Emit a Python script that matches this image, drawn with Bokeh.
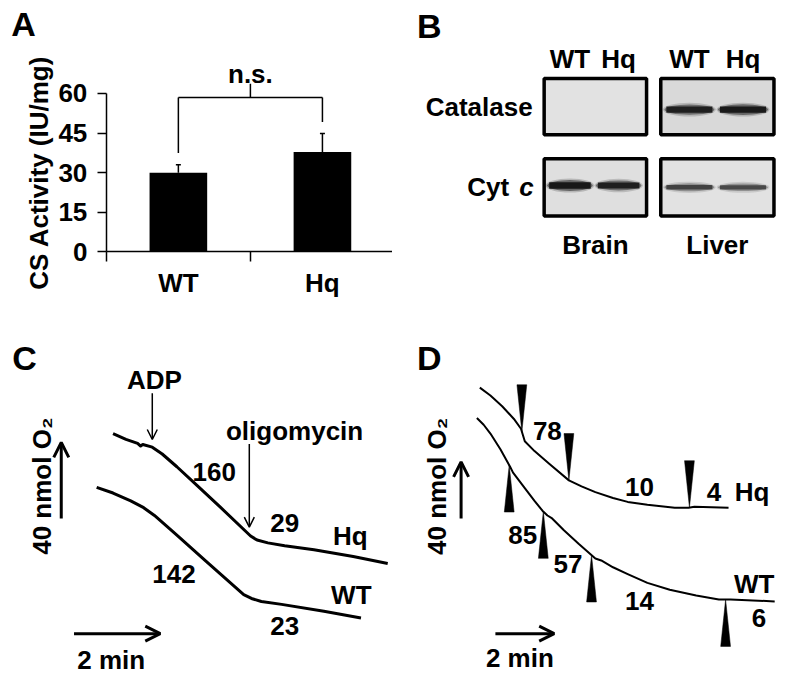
import numpy as np
from bokeh.plotting import figure
from bokeh.layouts import column, row
from bokeh.models import (ColumnDataSource, Range1d, FixedTicker, Whisker, TeeHead,
                          Arrow, OpenHead)
from bokeh.core.properties import value
from bokeh.embed import file_html
from bokeh.resources import INLINE

# ------------------------------------------------------------------ data
# Panel A: citrate synthase activity
cs_groups = ["WT", "Hq"]
cs_activity = [30.0, 37.8]
cs_sem = [3.0, 7.0]
cs_ticks = [0, 15, 30, 45, 60]
cs_ylabel = "CS Activity (IU/mg)"
sig_label = "n.s."

# Panel B: western blot (relative band intensity [tissue][lane])
blot_lanes = ["WT", "Hq"]
blot_tissues = ["Brain", "Liver"]
blot_proteins = ["Catalase", "Cyt"]
catalase_intensity = [[0.0, 0.0], [0.88, 0.92]]
cytc_intensity = [[0.95, 0.88], [0.62, 0.58]]

# Panel C: O2 consumption traces (time in min, O2 in nmol, arbitrary offset)
c_hq_t = [2.61, 2.91, 3.18, 3.25, 3.30, 3.52, 3.75, 4.09, 4.55, 5.11, 5.80, 5.95, 6.20, 6.59, 7.27, 8.18, 8.98]
c_hq_o2 = [129.7, 126.7, 124.6, 123.2, 124.0, 122.6, 119.0, 112.3, 102.6, 90.8, 75.9, 73.8, 72.3, 70.8, 68.7, 65.1, 61.5]
c_wt_t = [2.23, 2.61, 3.02, 3.32, 3.57, 4.09, 4.77, 5.64, 5.82, 6.05, 6.52, 7.50, 8.36]
c_wt_o2 = [101.5, 98.5, 94.4, 90.8, 86.7, 76.4, 62.6, 45.1, 43.1, 41.5, 40.0, 36.4, 32.8]
c_additions = ["ADP", "oligomycin"]
c_addition_t = [3.52, 5.77]
c_hq_rates = ["160", "29"]
c_wt_rates = ["142", "23"]

# Panel D: O2 consumption traces
d_hq_t = [2.97, 3.33, 3.73, 4.13, 4.37, 4.50, 4.83, 5.33, 6.00, 6.43, 6.90, 7.50, 8.00, 8.67, 9.60, 10.07, 10.27, 11.43]
d_hq_o2 = [206.9, 201.4, 193.8, 184.8, 177.9, 169.0, 162.1, 153.1, 141.4, 137.2, 133.1, 129.0, 126.2, 124.1, 122.1, 122.1, 122.8, 122.1]
d_wt_t = [2.87, 3.10, 3.33, 3.67, 4.00, 4.10, 4.50, 4.83, 5.10, 5.27, 5.43, 5.83, 6.33, 6.90, 7.10, 7.50, 8.00, 8.67, 9.43, 10.33, 11.10, 11.50, 13.00]
d_wt_o2 = [185.5, 180.7, 174.5, 163.4, 151.0, 146.9, 135.9, 126.9, 120.0, 116.6, 114.5, 106.2, 96.6, 86.2, 84.8, 80.0, 75.2, 69.0, 64.1, 60.0, 57.2, 57.2, 55.9]
d_hq_addition_t = [4.40, 6.00, 10.10]
d_wt_addition_t = [3.97, 5.13, 6.77, 11.33]
d_hq_rates = ["78", "10", "4"]
d_wt_rates = ["85", "57", "14", "6"]

trace_names = ["Hq", "WT"]
scale_o2 = 40      # nmol
scale_time = 2     # min
scale_o2_label = "40 nmol O\u2082"
scale_time_label = "2 min"

# ------------------------------------------------------------------ style
FONT = "Liberation Sans"
TXT = 26.0
LET = 34.0


def fs(v):
    return f"{v:.1f}px"


def new_blank(w, h, xr, yr):
    p = figure(width=w, height=h, x_range=Range1d(*xr), y_range=Range1d(*yr),
               x_axis_type=None, y_axis_type=None, output_backend="svg",
               toolbar_location=None, min_border=0)
    p.grid.visible = False
    p.outline_line_color = None
    p.background_fill_color = "white"
    return p


def add_text(p, xs, ys, texts, size=TXT, align="center", baseline="middle", angle=0.0, style="bold"):
    src = ColumnDataSource(dict(x=list(xs), y=list(ys), t=list(texts)))
    p.text(x="x", y="y", text="t", source=src, text_font=value(FONT),
           text_font_size=value(fs(size)), text_font_style=style, text_align=align,
           text_baseline=baseline, angle=angle, text_color="black")


def letter(p, x, y, t):
    add_text(p, [x], [y], [t], size=LET, align="left")


def arrow(p, x0, y0, x1, y1, lw, head):
    p.add_layout(Arrow(x_start=x0, y_start=y0, x_end=x1, y_end=y1, line_width=lw,
                       line_color="black",
                       end=OpenHead(size=head, line_width=lw, line_color="black")))


# ------------------------------------------------------------------ Panel A
xA = np.arange(len(cs_groups)) + 0.5
upper = np.array(cs_activity) + np.array(cs_sem)
pA = figure(width=392, height=313,
            x_range=Range1d(-108 / 147, 292 / 147), y_range=Range1d(-63 / 2.7, 257 / 2.7),
            output_backend="svg", toolbar_location=None, min_border=0)
pA.grid.visible = False
pA.outline_line_color = None
srcA = ColumnDataSource(dict(x=xA, top=cs_activity, upper=upper))
pA.vbar(x="x", top="top", width=0.4, source=srcA, fill_color="black", line_color=None)
pA.add_layout(Whisker(source=srcA, base="x", lower="top", upper="upper", line_width=1.5,
                      line_color="black", lower_head=None,
                      upper_head=TeeHead(size=5, line_width=1.5, line_color="black")))

ya = pA.yaxis[0]
ya.fixed_location = 0
ya.ticker = FixedTicker(ticks=cs_ticks)
ya.bounds = (min(cs_ticks), max(cs_ticks))
ya.major_label_text_font = FONT
ya.major_label_text_font_style = "bold"
ya.major_label_text_font_size = fs(TXT)
ya.major_label_text_color = "black"
ya.major_label_standoff = 10
ya.major_tick_in = 0
ya.major_tick_out = 9
ya.major_tick_line_width = 1.5
ya.minor_tick_line_color = None
ya.axis_line_width = 1.5
ya.axis_line_color = "black"
ya.major_tick_line_color = "black"

xa = pA.xaxis[0]
xa.fixed_location = 0
xa.bounds = (0, 292 / 147)
xa.ticker = FixedTicker(ticks=[float(v) for v in xA],
                        minor_ticks=[float(v) for v in np.arange(len(cs_groups) + 1)])
xa.major_label_overrides = {float(v): g for v, g in zip(xA, cs_groups)}
xa.major_label_text_font = FONT
xa.major_label_text_font_style = "bold"
xa.major_label_text_font_size = fs(TXT)
xa.major_label_text_color = "black"
xa.major_label_standoff = 6
xa.major_tick_line_color = None
xa.major_tick_in = 0
xa.major_tick_out = 0
xa.minor_tick_in = 0
xa.minor_tick_out = 10
xa.minor_tick_line_width = 1.5
xa.minor_tick_line_color = "black"
xa.axis_line_width = 1.5
xa.axis_line_color = "black"

# y-axis title (rotated), centred on the axis span
add_text(pA, [-0.465], [(min(cs_ticks) + max(cs_ticks)) / 2], [cs_ylabel], angle=np.pi / 2)

# significance bracket
br_y, gap, tick_h = 58.5, 4.4, 5.2
mid = float(xA.mean())
pA.segment(x0=[xA[0], xA[0], xA[1], mid], y0=[br_y, br_y, br_y, br_y],
           x1=[xA[1], xA[0], xA[1], mid], y1=[br_y, upper[0] + gap, upper[1] + gap, br_y + tick_h],
           line_width=1.5, line_color="black")
add_text(pA, [mid], [67.4], [sig_label], baseline="alphabetic")
letter(pA, -0.66, 86.1, "A")

# ------------------------------------------------------------------ Panel B
pB = new_blank(392, 313, (400, 800), (320, 0))
letter(pB, 425, 26, "B")
box_left = [553, 672]
box_w = [108, 119]
row_top = [78, 160]
row_h = [61, 62]
lane_frac = [0.26, 0.72]
band_frac = [[0.47, 0.55], [0.47, 0.50]]   # [protein] -> [tissue]
box_fill = [["#e2e2e2", "#d9d9d9"], ["#dfdfdf", "#e2e2e2"]]
intens = [catalase_intensity, cytc_intensity]
BLW = 3.5
for pi in range(2):
    for ti in range(2):
        cx = box_left[ti] + box_w[ti] / 2
        cy = row_top[pi] + row_h[pi] / 2
        pB.rect(x=[cx], y=[cy], width=box_w[ti] - BLW, height=row_h[pi] - BLW,
                fill_color=box_fill[pi][ti], line_color="black", line_width=BLW)
        bx, by, bw, bh, ba = [], [], [], [], []
        for li in range(2):
            a = intens[pi][ti][li]
            if a <= 0:
                continue
            bx.append(box_left[ti] + box_w[ti] * lane_frac[li])
            by.append(row_top[pi] + row_h[pi] * band_frac[pi][ti])
            bw.append(box_w[ti] * 0.42)
            bh.append(1 + 9 * a)
            ba.append(a)
        if bx:
            srcb = ColumnDataSource(dict(
                x=bx, y=by,
                w1=[v + 4 for v in bw], h1=[v + 5 for v in bh], a1=[v * 0.22 for v in ba],
                w2=[v + 1 for v in bw], h2=[v + 1.5 for v in bh], a2=[v * 0.55 for v in ba],
                w3=[v - 3 for v in bw], h3=[v * 0.7 for v in bh], a3=ba))
            pB.ellipse(x="x", y="y", width="w1", height="h1", source=srcb,
                       fill_color="#222222", fill_alpha="a1", line_color=None)
            pB.ellipse(x="x", y="y", width="w2", height="h2", source=srcb,
                       fill_color="#1c1c1c", fill_alpha="a2", line_color=None)
            pB.rect(x="x", y="y", width="w3", height="h3", source=srcb,
                    fill_color="#141414", fill_alpha="a3", line_color=None)

lane_x = [box_left[ti] + box_w[ti] * f for ti in range(2) for f in lane_frac]
add_text(pB, lane_x, [60] * 4, blot_lanes * 2)
add_text(pB, [543], [row_top[0] + row_h[0] / 2], [blot_proteins[0]], align="right")
add_text(pB, [519], [row_top[1] + row_h[1] / 2], [blot_proteins[1]], align="right")
add_text(pB, [544], [row_top[1] + row_h[1] / 2], ["c"], align="right", style="bold italic")
add_text(pB, [box_left[ti] + box_w[ti] / 2 for ti in range(2)], [250, 250], blot_tissues)

# ------------------------------------------------------------------ Panel C
pC = new_blank(392, 367, (0, 400 / 44), (0, 376 / 1.95))
letter(pC, 0.27, 169.2, "C")
pC.line(c_hq_t, c_hq_o2, line_width=3, line_color="black", line_join="round")
pC.line(c_wt_t, c_wt_o2, line_width=3, line_color="black", line_join="round")
c_label_y = [157.9, 131.3]
c_label_x = [c_addition_t[0] + 0.05, 6.82]
add_text(pC, c_label_x, c_label_y, c_additions)
for t, ly in zip(c_addition_t, c_label_y):
    tip = float(np.interp(t, c_hq_t, c_hq_o2)) + 4.0
    arrow(pC, t, ly - 7.0, t, tip, 1.5, 10)
add_text(pC, [4.955, 6.591], [109.7, 82.6], c_hq_rates)
add_text(pC, [4.023, 6.591], [55.9, 28.7], c_wt_rates)
add_text(pC, [8.114, 8.136], [75.9, 45.1], trace_names)
arrow(pC, 1.409, 85.1, 1.409, 85.1 + scale_o2, 3, 15)
add_text(pC, [0.955], [102.1], [scale_o2_label], angle=np.pi / 2)
arrow(pC, 1.705, 24.6, 1.705 + scale_time, 24.6, 3, 15)
add_text(pC, [2.568], [10.8], [scale_time_label])

# ------------------------------------------------------------------ Panel D
pD = new_blank(392, 367, (0, 400 / 30), (0, 376 / 1.45))
letter(pD, 0.833, 227.6, "D")
pD.line(d_hq_t, d_hq_o2, line_width=2, line_color="black", line_join="round")
pD.line(d_wt_t, d_wt_o2, line_width=2, line_color="black", line_join="round")
hw, L = 5 / 30, 48 / 1.45
wx, wy = [], []
for t in d_hq_addition_t:
    tip = float(np.interp(t, d_hq_t, d_hq_o2))
    wx.append([t - hw, t + hw, t])
    wy.append([tip + L, tip + L, tip])
for t in d_wt_addition_t:
    tip = float(np.interp(t, d_wt_t, d_wt_o2))
    wx.append([t - hw, t + hw, t])
    wy.append([tip - L, tip - L, tip])
pD.patches(wx, wy, fill_color="black", line_color="black", line_width=0.5)
add_text(pD, [5.267, 8.4, 10.933], [176.6, 136.6, 133.1], d_hq_rates)
add_text(pD, [4.433, 5.967, 8.4, 12.467], [102.8, 82.1, 55.9, 44.1], d_wt_rates)
add_text(pD, [12.233, 12.3], [133.1, 68.3], trace_names)
arrow(pD, 2.333, 114.5, 2.333, 114.5 + scale_o2, 3, 15)
add_text(pD, [1.5], [137.2], [scale_o2_label], angle=np.pi / 2)
arrow(pD, 3.5, 33.1, 3.5 + scale_time, 33.1, 3, 15)
add_text(pD, [4.333], [15.9], [scale_time_label])

layout = column(row(pA, pB), row(pC, pD))
open("out.html", "w").write(file_html(layout, INLINE))
